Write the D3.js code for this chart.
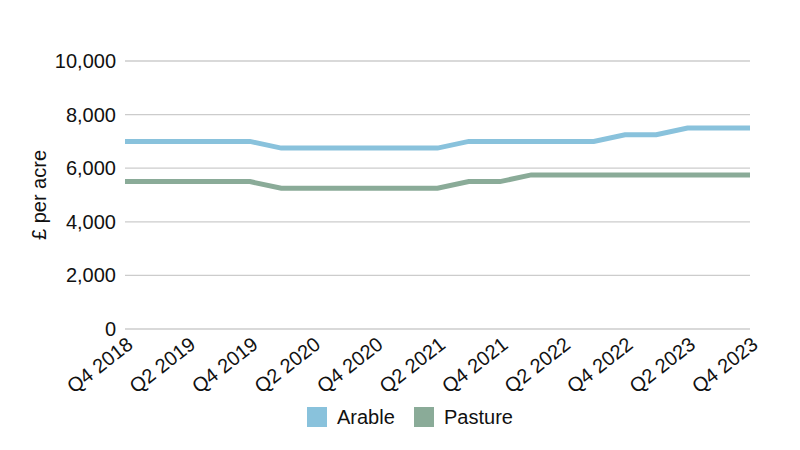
<!DOCTYPE html>
<html><head><meta charset="utf-8">
<script src="https://cdn.jsdelivr.net/npm/d3@7"></script>
<style>body{margin:0;background:#fff;font-family:"Liberation Sans",Arial,sans-serif;}</style>
</head><body><svg id="c" width="800" height="450"></svg>
<script>
const quarters = ["Q4 2018","Q1 2019","Q2 2019","Q3 2019","Q4 2019","Q1 2020","Q2 2020","Q3 2020","Q4 2020","Q1 2021","Q2 2021","Q3 2021","Q4 2021","Q1 2022","Q2 2022","Q3 2022","Q4 2022","Q1 2023","Q2 2023","Q3 2023","Q4 2023"];
const arable = [7000,7000,7000,7000,7000,6750,6750,6750,6750,6750,6750,7000,7000,7000,7000,7000,7250,7250,7500,7500,7500];
const pasture = [5500,5500,5500,5500,5500,5250,5250,5250,5250,5250,5250,5500,5500,5750,5750,5750,5750,5750,5750,5750,5750];
const yTicks = [0,2000,4000,6000,8000,10000];
const seriesNames = ["Arable","Pasture"];
const colors = ["#89c2dc","#8aab98"];

const svg = d3.select("#c");
const x = d3.scalePoint().domain(quarters).range([125,750]);
const y = d3.scaleLinear().domain([0,10000]).range([329,61]);

const g = svg.append("g");
g.selectAll("line.grid").data(yTicks).enter().append("line")
  .attr("x1",125).attr("x2",750).attr("y1",d=>y(d)).attr("y2",d=>y(d))
  .attr("stroke","#cccccc").attr("stroke-width",1.3);
g.selectAll("text.yt").data(yTicks).enter().append("text")
  .attr("x",116).attr("y",d=>y(d)).attr("dy","0.35em").attr("text-anchor","end")
  .attr("font-size",20).attr("fill","#111").text(d=>d3.format(",")(d));

const xLabels = quarters.filter((q,i)=>i%2===0);
g.selectAll("text.xt").data(xLabels).enter().append("text")
  .attr("transform",d=>`translate(${x(d)},${335}) rotate(-38)`)
  .attr("text-anchor","end").attr("dy","0.75em")
  .attr("font-size",20).attr("fill","#111").text(d=>d);

svg.append("text").attr("transform","translate(39,195) rotate(-90)")
  .attr("text-anchor","middle").attr("dy","0.35em").attr("font-size",20).attr("fill","#111").text("£ per acre");

const line = d3.line().x((d,i)=>x(quarters[i])).y(d=>y(d));
[arable,pasture].forEach((s,k)=>{
  svg.append("path").attr("d",line(s)).attr("fill","none").attr("stroke",colors[k]).attr("stroke-width",5);
});

const leg = svg.append("g");
const legX = [307,414];
seriesNames.forEach((n,k)=>{
  leg.append("rect").attr("x",legX[k]).attr("y",407).attr("width",20).attr("height",20).attr("fill",colors[k]);
  leg.append("text").attr("x",legX[k]+30).attr("y",417).attr("dy","0.35em").attr("font-size",20).attr("fill","#111").text(n);
});
</script></body></html>
